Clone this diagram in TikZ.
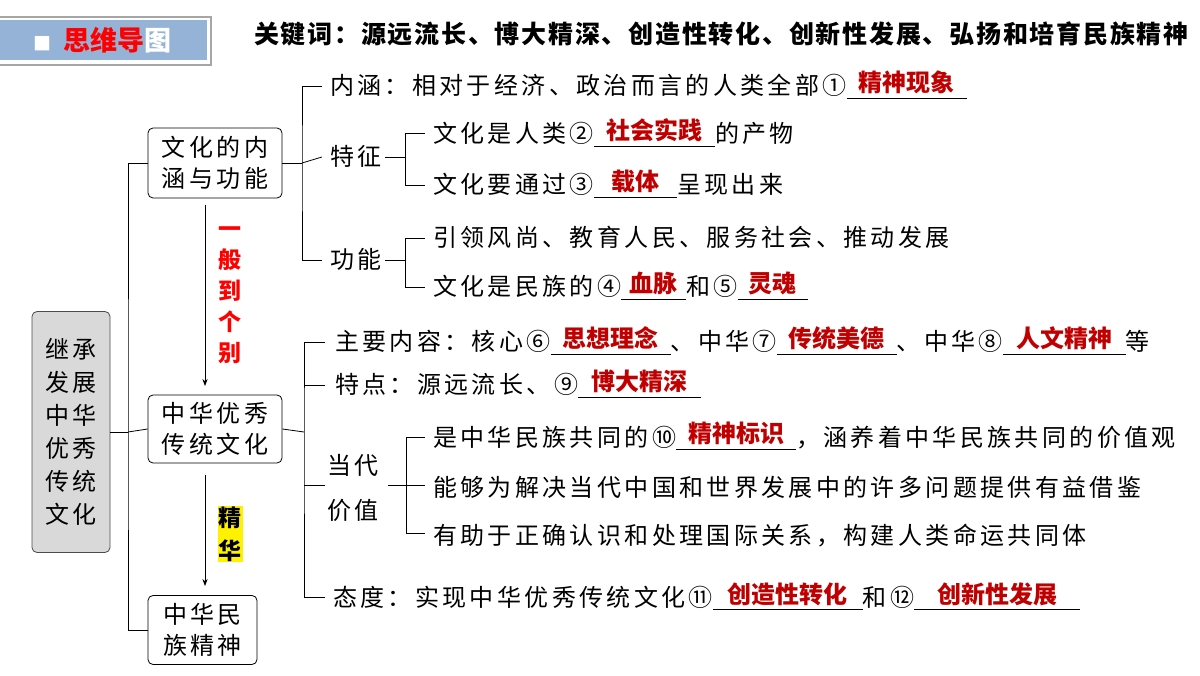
\documentclass[tikz,border=0pt]{standalone}
\usepackage{fontspec}
\setmainfont{Noto Sans CJK SC}[LetterSpace=14]
\newfontfamily\hdfont{Noto Sans CJK SC}
\newfontfamily\kwfont{Noto Sans CJK SC}[LetterSpace=7]
\usetikzlibrary{arrows.meta}
\definecolor{ansred}{HTML}{C00000}
\definecolor{hdblue}{HTML}{95B3D7}
\newcommand\ans[2]{\makebox[#1][c]{\raisebox{3pt}{\hdfont\fontsize{24}{26}\selectfont\bfseries\textcolor{ansred}{#2}}}\llap{\rule[-4pt]{#1}{0.6pt}}}
\begin{document}
\begin{tikzpicture}[x=1pt,y=-1pt,
  txt/.style={anchor=base west,inner sep=0pt,font=\fontsize{24}{28}\selectfont},
  box/.style={draw,thick,rounded corners=5pt,align=center,inner sep=3pt,font=\fontsize{24}{31}\selectfont},
  ln/.style={line width=0.8pt}]
\useasboundingbox (0,0) rectangle (1200,676);
% header
\fill[white,draw=gray!70,line width=1.5pt] (-2,17) rectangle (211,65);
\fill[hdblue] (0,20) rectangle (207,60);
\node[inner sep=0pt,font=\hdfont\fontsize{27}{30}\selectfont\bfseries] (hd) at (103,40) {\textcolor{white}{\fontsize{18}{20}\selectfont■}\hspace{12pt}\textcolor{red}{思维导}\textcolor{white}{图}};
\node[anchor=west,inner sep=0pt,font=\kwfont\fontsize{25}{28}\selectfont\bfseries] (kw) at (254,34) {关键词：源远流长、博大精深、创造性转化、创新性发展、弘扬和培育民族精神};
% root
\node[box,fill=gray!30,draw=gray!60!black,minimum width=78pt,minimum height=241pt,font=\fontsize{24}{33}\selectfont] (root) at (71,432) {继承\\发展\\中华\\优秀\\传统\\文化};
\node[box,minimum width=134pt,minimum height=70pt] (b1) at (215,163) {文化的内\\涵与功能};
\node[box,minimum width=134pt,minimum height=68pt] (b2) at (215,429) {中华优秀\\传统文化};
\node[box,minimum width=109pt,minimum height=69pt] (b3) at (202.5,630) {中华民\\族精神};
\coordinate (rj) at (128,432);
\draw[ln] (root.east) -- (rj);
\draw[ln] (b1.west) -| (rj) |- (b3.west);
\draw[ln] (rj) -- (b2.west);
% arrows
\coordinate (a1s) at (205,205); \coordinate (a1e) at (205,386);
\coordinate (a2s) at (205,475); \coordinate (a2e) at (205,586);
\draw[ln,-{Stealth[length=7pt]}] (a1s) -- (a1e);
\draw[ln,-{Stealth[length=7pt]}] (a2s) -- (a2e);
\node[font=\hdfont\fontsize{23}{31}\selectfont\bfseries,text=red,align=center] (l1) at (230,295) {一\\般\\到\\个\\别};
\node[font=\hdfont\fontsize{23}{33}\selectfont\bfseries,align=center,fill=yellow,inner sep=1pt] (l2) at (230,534) {精\\华};
% branch 1
\coordinate (j1) at (302,163);
\node[txt] (t11) at (330,95) {内涵：相对于经济、政治而言的人类全部①\ans{120pt}{精神现象}};
\node[txt] (tz) at (330,166) {特征};
\node[txt] (t12) at (433,143) {文化是人类②\ans{121pt}{社会实践}的产物};
\node[txt] (t13) at (433,194) {文化要通过③\ans{83pt}{载体}呈现出来};
\node[txt] (tg) at (330,269) {功能};
\node[txt] (t14) at (433,247) {引领风尚、教育人民、服务社会、推动发展};
\node[txt] (t15) at (433,296) {文化是民族的④\ans{65pt}{血脉}和⑤\ans{70pt}{灵魂}};
\draw[ln] (b1.east) -- (j1);
\draw[ln] (322,86) -| (j1) |- (322,260);
\draw[ln] (j1) -- (322,157);
\draw[ln] (385,157) -- (405,157);
\draw[ln] (425,133) -| (405,185) -- (425,185);
\draw[ln] (385,260) -- (405,260);
\draw[ln] (425,238) -| (405,287) -- (425,287);
% branch 2
\coordinate (j2) at (304,432);
\node[txt] (t21) at (335,351) {主要内容：核心⑥\ans{120pt}{思想理念}、中华⑦\ans{120pt}{传统美德}、中华⑧\ans{123pt}{人文精神}等};
\node[txt] (t22) at (335,394) {特点：源远流长、⑨\ans{123pt}{博大精深}};
\node[txt] (td) at (327,474) {当代};
\node[txt] (td2) at (327,519) {价值};
\node[txt] (t23) at (433,446) {是中华民族共同的⑩\ans{120pt}{精神标识}，涵养着中华民族共同的价值观};
\node[txt] (t24) at (433,496) {能够为解决当代中国和世界发展中的许多问题提供有益借鉴};
\node[txt] (t25) at (433,544) {有助于正确认识和处理国际关系，构建人类命运共同体};
\node[txt] (t26) at (333,606) {态度：实现中华优秀传统文化⑪\ans{150pt}{创造性转化}和⑫\ans{166pt}{创新性发展}};
\draw[ln] (b2.east) -- (j2);
\draw[ln] (325,342) -| (j2) |- (325,597);
\draw[ln] (304,385) -- (325,385);
\draw[ln] (304,485) -- (325,485);
\draw[ln] (388,485) -- (425,485);
\draw[ln] (425,437) -| (406,533) -- (425,533);
\end{tikzpicture}
\end{document}
